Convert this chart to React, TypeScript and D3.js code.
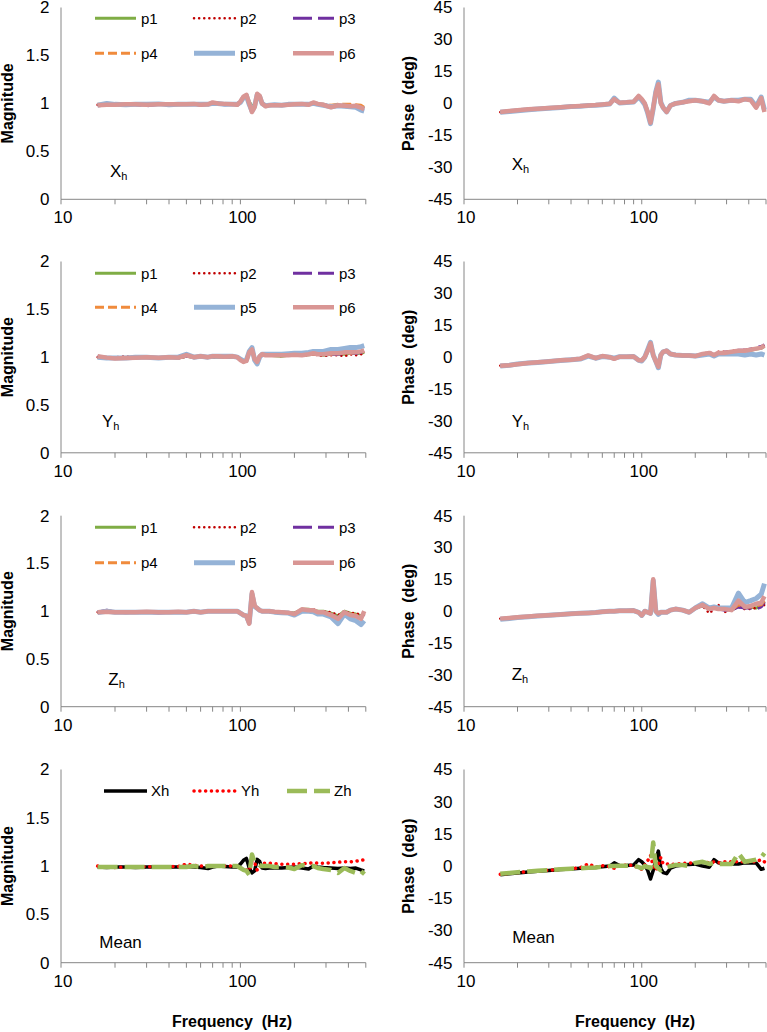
import React from "react";
import * as d3 from "d3";

// ---------- DATA ----------
const freq = [16,18,20,23,26,30,35,40,45,50,55,60,66,70,75,82,90,96,100,104,108,112,116,120,124,128,132,138,145,155,170,185,200,220,240,255,270,290,320,350,380,410,440,470,490];

const seriesNames = ["p1","p2","p3","p4","p5","p6"];
const meanNames = ["Xh","Yh","Zh"];
const magTicks = [0,0.5,1,1.5,2];
const phaseTicks = [-45,-30,-15,0,15,30,45];
const xTickLabels = [10,100];
const xMinorTicks = [10,20,30,40,50,60,70,80,90,100,200,300,400,500];

// Xh magnitude
const xMagP1 = [0.985,0.99,0.99,0.99,0.99,0.99,0.99,0.99,0.99,0.99,0.99,0.99,0.99,1.0,1.0,0.99,0.99,0.99,1.01,1.06,1.07,1.02,0.97,0.99,1.07,1.06,1.0,0.975,0.98,0.98,0.985,0.99,0.99,0.99,0.99,1.0,0.99,0.985,0.97,0.98,0.975,0.97,0.975,0.965,0.95];
const xMagP2 = [0.985,0.99,0.99,0.99,0.99,0.99,0.985,0.99,0.99,0.99,0.99,0.99,0.99,1.0,1.0,0.99,0.99,0.99,1.02,1.06,1.08,1.0,0.93,0.97,1.09,1.07,1.0,0.97,0.98,0.98,0.98,0.99,0.99,0.99,0.99,1.0,0.99,0.99,0.97,0.98,0.975,0.975,0.98,0.97,0.96];
const xMagP3 = [0.985,0.98,0.99,0.99,0.985,0.975,0.99,0.99,0.99,0.99,0.99,0.98,0.99,1.0,0.995,0.985,0.99,0.985,1.01,1.06,1.08,1.0,0.92,0.96,1.09,1.07,1.0,0.97,0.98,0.98,0.985,0.985,0.99,0.99,0.985,1.0,0.99,0.985,0.97,0.975,0.97,0.975,0.97,0.96,0.95];
const xMagP4 = [0.99,0.985,0.99,0.98,0.99,0.985,0.99,0.99,0.985,0.99,0.99,0.99,0.985,1.0,0.995,0.99,0.99,0.99,1.01,1.05,1.07,1.0,0.93,0.97,1.08,1.06,1.0,0.975,0.985,0.98,0.98,0.99,0.99,0.99,0.99,1.0,0.995,0.99,0.98,0.99,0.99,0.99,0.985,0.98,0.96];
const xMagP5 = [0.98,1.0,0.99,0.985,0.99,0.99,0.995,0.985,0.99,0.99,0.99,0.99,0.99,1.0,1.0,0.99,0.99,0.99,1.01,1.06,1.08,0.99,0.92,0.97,1.09,1.07,1.0,0.975,0.98,0.985,0.98,0.99,0.99,0.99,0.99,1.0,0.99,0.98,0.965,0.975,0.97,0.965,0.96,0.93,0.92];
const xMagP6 = [0.98,0.985,0.985,0.99,0.99,0.985,0.99,0.99,0.99,0.99,0.995,0.985,0.99,1.01,1.0,0.995,0.99,0.985,1.02,1.07,1.09,1.0,0.91,0.96,1.1,1.08,1.0,0.97,0.98,0.98,0.98,0.985,0.99,0.995,0.985,1.01,0.995,0.985,0.96,0.98,0.975,0.97,0.975,0.955,0.94];

// Xh phase
const xPhP1 = [-4,-3.6,-3.2,-2.8,-2.5,-2.2,-1.8,-1.5,-1.2,-1,-0.8,-0.5,-0.2,1.8,0.3,0.5,0.8,3.2,1.8,0,-3.5,-8,-1.5,4.5,8,0.2,-1.8,-3.5,-1,0,0.5,1,1.5,1,0.3,3.2,1.5,1,1.5,1,2,1.5,-1.5,2.2,-3.5];
const xPhP2 = [-4.1,-3.6,-3.3,-2.8,-2.5,-2.1,-1.8,-1.5,-1.2,-1,-0.8,-0.6,-0.2,1.8,0.3,0.5,0.8,3.2,1.8,0,-3.8,-8.5,-2,4.8,8.5,0,-2,-3.8,-1,0,0.5,1,1.2,1,0.2,3.2,1.2,1,1.5,1,1.8,1.5,-1.5,2.2,-3.8];
const xPhP3 = [-4.2,-3.7,-3.3,-2.9,-2.5,-2.2,-1.9,-1.5,-1.2,-1,-0.8,-0.5,-0.3,1.5,0.2,0.5,0.8,3,1.8,-0.2,-3.8,-8.5,-2,4.5,8.5,0,-2,-3.8,-1,0,0.5,1,1.2,1,0.3,3,1.2,1,1.2,1,1.8,1.5,-1.5,2,-3.5];
const xPhP4 = [-4,-3.5,-3.2,-2.8,-2.4,-2.2,-1.8,-1.4,-1.2,-1,-0.7,-0.5,-0.2,1.5,0.3,0.5,0.8,3,1.8,0,-3.5,-8,-2,4.5,8,0,-2,-3.5,-1,0,0.5,1,1.5,1,0.5,3,1.5,1,1.5,1,2,1.5,-1,2,-3];
const xPhP5 = [-4.2,-3.8,-3.4,-3,-2.6,-2.3,-1.9,-1.5,-1.3,-1,-0.9,-0.6,-0.3,2.5,0.2,0.4,0.7,3,1.5,-0.5,-4.5,-9.5,-2.5,5.5,10,0.5,-2,-4,-1,0,0.5,1.5,1.5,1,0.5,3,1.5,1,1.5,1.5,2,2,-1.5,3,-3];
const xPhP6 = [-4,-3.6,-3.2,-2.8,-2.5,-2.2,-1.8,-1.5,-1.2,-1,-0.8,-0.5,-0.2,2,0.3,0.5,0.8,3.5,2,0,-4,-9,-2,5,9,0,-2,-4,-1,0,0.5,1,1.5,1,0,3.5,1.5,1,1.5,1,2,1.5,-2,2.5,-4];

// Yh magnitude
const yMagP1 = [1.0,0.99,0.99,0.99,0.995,1.0,0.99,1.0,0.99,1.01,1.0,1.0,1.0,1.0,1.0,1.0,1.0,1.0,0.97,0.95,0.96,1.05,1.07,0.98,0.95,1.01,1.02,1.02,1.02,1.015,1.01,1.02,1.02,1.02,1.025,1.03,1.03,1.02,1.03,1.03,1.03,1.04,1.04,1.04,1.05];
const yMagP2 = [1.0,0.99,1.0,1.01,0.99,1.0,0.99,1.0,0.99,1.01,1.0,1.0,1.0,1.0,1.0,1.0,1.0,1.0,0.97,0.95,0.96,1.05,1.07,0.98,0.95,1.01,1.02,1.02,1.02,1.02,1.01,1.02,1.02,1.02,1.02,1.03,1.02,1.01,1.02,1.02,1.01,1.03,1.02,1.03,1.04];
const yMagP3 = [1.01,0.99,0.99,0.995,0.99,1.0,0.99,1.0,0.99,1.01,1.0,1.0,1.0,1.01,1.0,1.0,1.01,1.0,0.97,0.95,0.96,1.05,1.07,0.98,0.95,1.01,1.02,1.02,1.02,1.02,1.02,1.02,1.02,1.02,1.03,1.03,1.03,1.02,1.03,1.03,1.04,1.04,1.04,1.05,1.06];
const yMagP4 = [1.0,0.99,0.99,0.99,1.0,1.0,0.99,1.0,0.99,1.01,1.0,1.01,1.0,1.01,1.0,1.0,1.01,1.0,0.97,0.95,0.96,1.05,1.07,0.98,0.95,1.01,1.02,1.02,1.02,1.02,1.02,1.02,1.02,1.02,1.03,1.03,1.03,1.03,1.03,1.04,1.04,1.04,1.05,1.05,1.06];
const yMagP5 = [1.0,0.99,0.99,0.99,1.0,1.0,0.99,1.0,1.0,1.03,1.0,1.01,1.0,1.01,1.01,1.01,1.01,1.0,0.98,0.96,0.97,1.06,1.1,0.97,0.93,1.0,1.03,1.03,1.03,1.03,1.03,1.035,1.04,1.04,1.05,1.06,1.06,1.06,1.08,1.08,1.09,1.1,1.1,1.11,1.12];
const yMagP6 = [1.01,0.995,0.985,0.99,0.995,1.0,0.995,1.0,0.995,1.02,1.0,1.01,1.0,1.01,1.01,1.005,1.01,1.0,0.97,0.95,0.96,1.05,1.08,0.98,0.95,1.01,1.03,1.02,1.02,1.02,1.02,1.02,1.025,1.02,1.03,1.04,1.03,1.03,1.04,1.04,1.05,1.05,1.05,1.06,1.07];

// Yh phase
const yPhP1 = [-4,-3.7,-3.3,-2.8,-2.4,-2,-1.5,-1.2,-0.8,0.6,-0.5,0.5,0,-0.8,0.2,0.2,0.3,-1.5,-1.5,0,3,6,1,-2,-4,1,2.5,2.8,1.5,1,0.8,0.8,0.5,1.5,2,1,2,2,2.5,2.8,3,3.2,3.8,4.2,5];
const yPhP2 = [-4,-3.7,-3.3,-2.8,-2.4,-2,-1.5,-1.2,-0.8,0.6,-0.5,0.5,0,-0.8,0.2,0.2,0.3,-1.5,-1.5,0,3,6,1,-2,-4,1,2.5,2.8,1.5,1,0.8,0.8,0.5,1.5,2.5,1,2.5,2.5,3,3,3.5,3.5,4,5,5.5];
const yPhP3 = [-4.1,-3.8,-3.3,-2.9,-2.5,-2,-1.6,-1.2,-0.9,0.6,-0.5,0.4,0,-0.8,0.2,0.2,0.3,-1.5,-1.6,0,3,6,1,-2,-4,1,2.5,2.8,1.5,1,0.8,0.8,0.5,1.5,2.2,1,2.2,2.3,2.8,3.2,3.3,3.8,4.5,5,5.8];
const yPhP4 = [-4,-3.8,-3.3,-2.8,-2.4,-2,-1.5,-1.2,-0.8,0.6,-0.5,0.5,0,-0.7,0.2,0.2,0.3,-1.4,-1.5,0,3,6,1,-2,-4,1,2.5,2.8,1.5,1,0.8,0.8,0.5,1.5,2,1,2,2.2,2.6,3,3.2,3.6,4.2,4.6,5.2];
const yPhP5 = [-4.2,-3.8,-3.2,-2.8,-2.5,-2,-1.6,-1.2,-0.9,0.5,-0.5,0.3,0,-0.5,0.2,0.2,0.3,-1.5,-1.8,0,3.5,7,1,-2,-5,1,2.5,3,1.5,1,0.8,0.8,0.5,1,1.5,0.5,1.5,1.5,1.5,1.5,1,1.5,1,1.5,1];
const yPhP6 = [-4,-3.8,-3.3,-2.8,-2.4,-2,-1.5,-1.2,-0.8,0.8,-0.5,0.5,0,-0.8,0.2,0.2,0.3,-1.5,-1.5,0,3,6.5,1,-2,-4.5,1,2.5,3,1.5,1,0.8,0.8,0.5,1.5,2,1,2,2,2.5,3,3,3.5,4,4.5,5.5];

// Zh magnitude
const zMagP1 = [0.99,0.995,0.99,0.99,0.99,0.995,0.99,0.99,0.995,0.99,1.0,0.99,1.0,1.0,1.0,1.0,1.0,1.0,0.98,0.96,0.95,0.88,1.16,1.06,1.03,1.01,1.0,1.0,1.0,0.995,0.99,0.985,0.98,1.02,1.02,1.01,1.0,1.0,0.98,0.95,1.0,0.98,0.97,0.95,0.98];
const zMagP2 = [0.99,1.0,0.99,0.99,0.99,0.99,0.99,0.99,0.99,0.99,1.0,0.99,1.0,0.99,1.0,1.0,1.0,1.0,0.98,0.96,0.95,0.88,1.17,1.05,1.03,1.01,1.0,1.0,0.99,0.99,1.0,0.98,0.98,1.02,1.02,1.02,1.0,1.0,0.99,0.96,1.0,0.98,0.98,0.96,0.97];
const zMagP3 = [0.99,1.01,0.99,0.985,0.99,0.99,0.98,0.99,0.99,0.99,1.0,0.99,1.0,1.0,1.0,1.0,1.0,1.0,0.98,0.96,0.95,0.88,1.17,1.05,1.03,1.01,1.0,1.0,1.0,0.99,0.99,0.98,0.975,1.01,1.01,1.01,0.99,0.99,0.97,0.93,0.99,0.96,0.95,0.93,0.97];
const zMagP4 = [0.99,0.995,0.99,0.99,0.99,0.99,0.99,0.99,0.99,0.99,1.0,0.99,1.0,1.0,1.0,1.0,1.0,1.0,0.98,0.96,0.95,0.88,1.17,1.05,1.03,1.01,1.0,1.0,1.0,0.99,0.99,0.98,0.975,1.015,1.01,1.01,0.99,0.99,0.97,0.93,0.99,0.97,0.96,0.93,0.98];
const zMagP5 = [0.985,1.0,0.99,0.99,0.99,0.99,0.99,0.99,0.99,0.99,1.0,0.99,1.0,1.0,1.0,1.0,1.0,1.0,0.98,0.96,0.95,0.88,1.18,1.05,1.03,1.01,1.0,1.0,1.0,0.99,0.985,0.98,0.96,1.0,1.0,0.995,0.97,0.97,0.94,0.87,0.97,0.92,0.9,0.86,0.9];
const zMagP6 = [0.99,0.995,0.99,0.99,0.99,0.995,0.99,0.99,0.995,0.99,1.0,0.99,1.0,1.0,1.0,1.0,1.0,1.0,0.98,0.96,0.95,0.87,1.2,1.06,1.03,1.01,1.0,1.0,1.0,0.995,0.99,0.985,0.97,1.02,1.01,1.01,0.99,0.99,0.96,0.92,0.99,0.96,0.95,0.92,1.0];

// Zh phase
const zPhP1 = [-3.5,-3.2,-2.9,-2.5,-2.2,-1.9,-1.5,-1.2,-1,-0.8,-0.6,-0.3,0,0,0.2,0.2,0.3,-0.5,-2,0,-0.5,-1,14,0,-1,-0.5,-0.5,-0.5,0.5,1,0.5,-0.5,1.5,2.5,1,1.5,1,1,0.5,2.5,1.5,2,1.5,2.5,4];
const zPhP2 = [-3.5,-3.2,-2.9,-2.5,-2.2,-1.9,-1.5,-1.2,-1,-0.8,-0.6,-0.3,0,0,0.2,0.2,0.3,-0.5,-2,0,-0.5,-1,13,0,-1,-0.5,-0.5,-0.5,0.5,1,0.5,-0.5,1.5,2.5,-1,1,3,-0.5,0.5,2,1,1,1.5,2,3];
const zPhP3 = [-3.6,-3.3,-3,-2.6,-2.3,-2,-1.6,-1.3,-1,-0.8,-0.6,-0.3,0,0,0.2,0.2,0.3,-0.5,-2,0,-0.5,-1,14,0,-1,-0.5,-0.5,-0.5,0.5,1,0.5,-0.5,1.5,2.5,0.5,1.5,1,0.5,0.5,2,1.5,1.5,1,2,4.5];
const zPhP4 = [-3.5,-3.2,-2.9,-2.5,-2.2,-1.9,-1.5,-1.2,-1,-0.8,-0.6,-0.3,0,0,0.2,0.2,0.3,-0.5,-2,0,-0.5,-1,14,0,-1,-0.5,-0.5,-0.5,0.5,1,0.5,-0.5,1.5,2.5,1,1.5,1,1,0.5,3,2,2,2.5,3,5];
const zPhP5 = [-3.8,-3.4,-3,-2.6,-2.3,-1.9,-1.5,-1.2,-1,-0.8,-0.6,-0.3,0,0,0.2,0.2,0.3,-0.5,-2,0,-0.5,-1,14.5,0,-1.5,-0.5,-0.5,-0.5,0.5,1,0.5,-0.5,1.5,3.5,1.5,2,1.5,1.5,1.5,8.5,4,5,6,8,13];
const zPhP6 = [-3.5,-3.2,-2.9,-2.5,-2.2,-1.9,-1.5,-1.2,-1,-0.8,-0.6,-0.3,0,0,0.2,0.2,0.3,-0.5,-2,0,-0.5,-1,15,0,-1,-0.5,-0.5,-0.5,0.5,1,0.5,-0.5,1.5,3,1,1.5,1,1,0.5,5,2,2.5,3.5,4,7];

// Mean magnitude
const meanMagX = [0.99,0.985,0.99,0.99,0.985,0.99,0.99,0.99,0.99,0.995,0.99,0.985,0.975,0.99,1.0,0.995,0.99,0.99,1.02,1.06,1.08,0.98,0.93,0.95,1.07,1.05,0.98,0.975,0.98,0.98,0.98,0.985,0.99,0.98,0.97,1.0,0.99,0.985,0.98,0.975,0.98,0.975,0.98,0.96,0.95];
const meanMagY = [1.0,0.99,0.985,0.99,0.99,0.995,0.99,0.995,0.995,1.02,1.01,1.0,1.005,1.0,1.0,1.0,1.0,1.0,0.98,0.97,0.96,0.95,1.05,1.04,0.96,0.97,1.03,1.03,1.03,1.025,1.02,1.02,1.02,1.025,1.03,1.035,1.03,1.03,1.035,1.04,1.045,1.045,1.05,1.06,1.065];
const meanMagZ = [0.99,0.99,0.99,0.99,0.99,0.99,0.99,0.99,0.99,0.99,1.0,0.99,1.0,1.0,1.0,1.0,1.0,1.0,0.98,0.96,0.95,0.91,1.12,1.04,1.03,1.01,1.0,1.0,1.0,0.99,0.99,0.985,0.97,1.01,1.0,1.0,0.98,0.97,0.96,0.93,0.98,0.95,0.93,0.91,0.95];

// Mean phase
const meanPhX = [-4,-3.6,-3.2,-2.8,-2.4,-2,-1.6,-1.3,-1,-0.8,-0.6,-0.3,0,1.5,0.2,0.3,0.5,3,2,0.5,-2,-6,-2,3,7,-1,-3,-3.5,-1,0,0.5,0.8,1,0,-0.5,3,1.5,1,1,1,1.5,1.5,1.5,-1.5,-1];
const meanPhY = [-3.8,-3.4,-3,-2.6,-2.3,-1.9,-1.5,-1.2,-0.8,1,-0.5,0.2,-0.3,-1,0.3,0.5,0.4,-1,-1.5,0.5,2.5,5,0,-2,1,4,1,1,0.8,1,1.2,1.5,1.5,2,1.5,2,1.5,2,2,2,2,2,2,3,2];
const meanPhZ = [-3.6,-3.2,-2.9,-2.5,-2.2,-1.9,-1.5,-1.2,-1,-0.8,-0.6,-0.3,0,0,0.2,0.2,0.3,-0.5,-1,0,-0.5,-1,11,0,-1,-2,-1,-0.5,0,0.5,0.5,0,1.5,2,1,1.5,1,1,1,6,2,2.5,3,4,6];

// ---------- STYLES ----------
const FONT = "'Liberation Sans', Arial, sans-serif";
const AXIS_COLOR = "#868686";

type LineStyle = { color: string; width: number; dash?: string; cap?: "round" | "butt" };
const pStyles: Record<string, LineStyle> = {
  p1: { color: "#7FAD45", width: 3 },
  p2: { color: "#C00000", width: 2.5, dash: "0.1 5", cap: "round" },
  p3: { color: "#7030A0", width: 3, dash: "19 6" },
  p4: { color: "#F08B3C", width: 3, dash: "9 4" },
  p5: { color: "#95B3D7", width: 5 },
  p6: { color: "#D99694", width: 4.5 },
};
const mStyles: Record<string, LineStyle> = {
  Xh: { color: "#000000", width: 3.5 },
  Yh: { color: "#FF0000", width: 3.5, dash: "0.1 5.7", cap: "round" },
  Zh: { color: "#9BBB59", width: 4.5, dash: "20 7" },
};

// ---------- LAYOUT ----------
const cols = [
  { x0: 61, x1: 365.8 },
  { x0: 464, x1: 766 },
];
const rows = [
  { top: 7.5, bottom: 199.3 },
  { top: 261.5, bottom: 452.8 },
  { top: 515.7, bottom: 706.7 },
  { top: 769.5, bottom: 962.7 },
];

type Panel = {
  row: number;
  col: number;
  kind: "mag" | "phase";
  names: string[];
  values: number[][];
  styles: Record<string, LineStyle>;
  yTitle: string;
  label: { main: string; sub?: string; x: number; dy: number };
  legend?: { rowsY: number[]; layout: { x: number; r: number }[]; len: number; textGap: number };
};

const pLegendLayout = [
  { x: 95, r: 0 }, { x: 194, r: 0 }, { x: 293, r: 0 },
  { x: 95, r: 1 }, { x: 194, r: 1 }, { x: 293, r: 1 },
];

const panels: Panel[] = [
  { row: 0, col: 0, kind: "mag", names: seriesNames, values: [xMagP1, xMagP2, xMagP3, xMagP4, xMagP5, xMagP6], styles: pStyles, yTitle: "Magnitude", label: { main: "X", sub: "h", x: 110, dy: 22.6 }, legend: { rowsY: [18.3, 53.3], layout: pLegendLayout, len: 41, textGap: 46 } },
  { row: 0, col: 1, kind: "phase", names: seriesNames, values: [xPhP1, xPhP2, xPhP3, xPhP4, xPhP5, xPhP6], styles: pStyles, yTitle: "Pahse  (deg)", label: { main: "X", sub: "h", x: 511.7, dy: 29 } },
  { row: 1, col: 0, kind: "mag", names: seriesNames, values: [yMagP1, yMagP2, yMagP3, yMagP4, yMagP5, yMagP6], styles: pStyles, yTitle: "Magnitude", label: { main: "Y", sub: "h", x: 102, dy: 26 }, legend: { rowsY: [273.3, 307.3], layout: pLegendLayout, len: 41, textGap: 46 } },
  { row: 1, col: 1, kind: "phase", names: seriesNames, values: [yPhP1, yPhP2, yPhP3, yPhP4, yPhP5, yPhP6], styles: pStyles, yTitle: "Phase  (deg)", label: { main: "Y", sub: "h", x: 511.7, dy: 26 } },
  { row: 2, col: 0, kind: "mag", names: seriesNames, values: [zMagP1, zMagP2, zMagP3, zMagP4, zMagP5, zMagP6], styles: pStyles, yTitle: "Magnitude", label: { main: "Z", sub: "h", x: 108.3, dy: 22 }, legend: { rowsY: [527.3, 562.7], layout: pLegendLayout, len: 41, textGap: 46 } },
  { row: 2, col: 1, kind: "phase", names: seriesNames, values: [zPhP1, zPhP2, zPhP3, zPhP4, zPhP5, zPhP6], styles: pStyles, yTitle: "Phase  (deg)", label: { main: "Z", sub: "h", x: 511.7, dy: 26.7 } },
  { row: 3, col: 0, kind: "mag", names: meanNames, values: [meanMagX, meanMagY, meanMagZ], styles: mStyles, yTitle: "Magnitude", label: { main: "Mean", x: 99.3, dy: 14.4 }, legend: { rowsY: [791], layout: [{ x: 104, r: 0 }, { x: 194, r: 0 }, { x: 287, r: 0 }], len: 43, textGap: 47 } },
  { row: 3, col: 1, kind: "phase", names: meanNames, values: [meanPhX, meanPhY, meanPhZ], styles: mStyles, yTitle: "Phase  (deg)", label: { main: "Mean", x: 512.3, dy: 20 } },
];

function PanelView({ p }: { p: Panel }) {
  const c = cols[p.col];
  const r = rows[p.row];
  const x = d3.scaleLog().domain([10, 500]).range([c.x0, c.x1]);
  const y = p.kind === "mag"
    ? d3.scaleLinear().domain([0, 2]).range([r.bottom, r.top])
    : d3.scaleLinear().domain([-45, 45]).range([r.bottom, r.top]);
  const ticks = p.kind === "mag" ? magTicks : phaseTicks;
  const line = d3.line<number>().x((_, i) => x(freq[i])).y((v) => y(v)).curve(d3.curveLinear);
  const titleX = p.col === 0 ? 12.5 : 414;
  const yMid = (r.top + r.bottom) / 2;
  return (
    <g>
      {/* y axis */}
      <line x1={c.x0} x2={c.x0} y1={r.top} y2={r.bottom} stroke={AXIS_COLOR} strokeWidth={1} />
      {ticks.map((t) => (
        <text key={t} x={c.x0 - 11.5} y={y(t)} dy="0.35em" textAnchor="end" fontSize={17} fontFamily={FONT} fill="#000">
          {String(t)}
        </text>
      ))}
      {/* x axis */}
      <line x1={c.x0} x2={c.x1} y1={r.bottom} y2={r.bottom} stroke={AXIS_COLOR} strokeWidth={1} />
      {xMinorTicks.map((t) => (
        <line key={t} x1={x(t)} x2={x(t)} y1={r.bottom} y2={r.bottom + 5} stroke={AXIS_COLOR} strokeWidth={1} />
      ))}
      {xTickLabels.map((t) => (
        <text key={t} x={x(t) + 2} y={r.bottom + 24} textAnchor="middle" fontSize={17} fontFamily={FONT} fill="#000">
          {String(t)}
        </text>
      ))}
      {/* y title */}
      <text
        transform={`translate(${titleX},${yMid}) rotate(-90)`}
        textAnchor="middle"
        fontSize={16}
        fontWeight="bold"
        fontFamily={FONT}
        xmlSpace="preserve"
        style={{ whiteSpace: "pre" }}
      >
        {p.yTitle}
      </text>
      {/* series */}
      {p.names.map((n, i) => {
        const s = p.styles[n];
        return (
          <path
            key={n}
            d={line(p.values[i]) || ""}
            fill="none"
            stroke={s.color}
            strokeWidth={s.width}
            strokeDasharray={s.dash}
            strokeLinecap={s.cap || "butt"}
            strokeLinejoin="round"
          />
        );
      })}
      {/* panel label */}
      <text x={p.label.x} y={r.bottom - p.label.dy} fontSize={17} fontFamily={FONT} fill="#000">
        {p.label.main}
        {p.label.sub ? <tspan fontSize={11} dy={3}>{p.label.sub}</tspan> : null}
      </text>
      {/* legend */}
      {p.legend
        ? p.names.map((n, i) => {
            const s = p.styles[n];
            const pos = p.legend!.layout[i];
            const ly = p.legend!.rowsY[pos.r];
            return (
              <g key={"lg" + n}>
                <line
                  x1={pos.x}
                  x2={pos.x + p.legend!.len}
                  y1={ly}
                  y2={ly}
                  stroke={s.color}
                  strokeWidth={s.width}
                  strokeDasharray={s.dash}
                  strokeLinecap={s.cap || "butt"}
                />
                <text x={pos.x + p.legend!.textGap} y={ly} dy="0.35em" fontSize={15} fontFamily={FONT} fill="#000">
                  {n}
                </text>
              </g>
            );
          })
        : null}
    </g>
  );
}

export default function App() {
  return (
    <svg
      width={767}
      height={1032}
      viewBox="0 0 767 1032"
      style={{ position: "absolute", left: 0, top: 0, background: "#fff" }}
    >
      <rect x={0} y={0} width={767} height={1032} fill="#fff" />
      {panels.map((p, i) => (
        <PanelView key={i} p={p} />
      ))}
      <text x={232} y={1027} textAnchor="middle" fontSize={16} fontWeight="bold" fontFamily={FONT} xmlSpace="preserve" style={{ whiteSpace: "pre" }}>
        {"Frequency  (Hz)"}
      </text>
      <text x={635} y={1027} textAnchor="middle" fontSize={16} fontWeight="bold" fontFamily={FONT} xmlSpace="preserve" style={{ whiteSpace: "pre" }}>
        {"Frequency  (Hz)"}
      </text>
    </svg>
  );
}
